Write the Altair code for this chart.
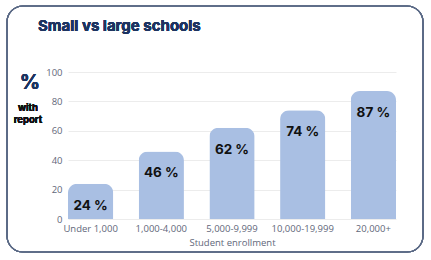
import altair as alt
import pandas as pd

# Share of schools with a report, by student enrollment band
categories = ["Under 1,000", "1,000-4,000", "5,000-9,999", "10,000-19,999", "20,000+"]
values = [24, 46, 62, 74, 87]
labels = ["24 %", "46 %", "62 %", "74 %", "87 %"]
y_ticks = [0, 20, 40, 60, 80, 100]

df = pd.DataFrame({"band": categories, "pct": values, "label": labels})

NAVY = "#1d3461"
BAR = "#a9bfe3"
GREY = "#62677a"

x_enc = alt.X(
    "band:N",
    sort=categories,
    scale=alt.Scale(paddingInner=0.36, paddingOuter=0),
    axis=alt.Axis(
        title="Student enrollment",
        labelAngle=0,
        labelColor=GREY,
        labelFontSize=9.5,
        labelFont="Open Sans",
        labelPadding=4,
        titleColor=GREY,
        titleFontSize=9.5,
        titleFont="Open Sans",
        titleFontWeight="normal",
        titlePadding=5,
        domain=False,
        ticks=False,
    ),
)

y_enc = alt.Y(
    "pct:Q",
    scale=alt.Scale(domain=[0, 100], nice=False),
    axis=alt.Axis(
        title=None,
        values=y_ticks,
        labelOverlap=False,
        labelColor=GREY,
        labelFontSize=9.5,
        labelFont="Open Sans",
        labelPadding=6,
        domain=False,
        ticks=False,
        gridColor="#ececec",
        gridWidth=1,
    ),
)

bars = alt.Chart(df).mark_bar(
    color=BAR, cornerRadiusTopLeft=9, cornerRadiusTopRight=9
).encode(x=x_enc, y=y_enc)

bar_text = alt.Chart(df).mark_text(
    font="Inter", fontWeight="bold", fontSize=13.5, color="#111111",
    baseline="middle", dy=22,
).encode(x=x_enc, y=y_enc, text="label:N")

# Frame around the whole figure
frame = alt.Chart(df).mark_rect(
    fillOpacity=0, stroke="#5b6a86", strokeWidth=1.2, cornerRadius=16
).encode(
    x=alt.value(-61), x2=alt.value(355), y=alt.value(-66), y2=alt.value(180)
)

title = alt.Chart(df).mark_text(
    text="Small vs large schools", font="Inter", fontWeight="bold",
    fontSize=15, color=NAVY, align="left", baseline="alphabetic",
).encode(x=alt.value(-30), y=alt.value(-41))

pct_sign = alt.Chart(df).mark_text(
    text="%", font="Inter", fontWeight="bold", fontSize=20, color=NAVY,
    align="center", baseline="middle",
).encode(x=alt.value(-38), y=alt.value(11))

with_report = alt.Chart(df).mark_text(
    text=["with", "report"], font="Inter", fontWeight="bold", fontSize=9.5,
    color="#111111", align="center", baseline="middle", lineHeight=11.5,
).encode(x=alt.value(-40), y=alt.value(36))

chart = alt.layer(bars, bar_text, title, pct_sign, with_report, frame).properties(
    width=328,
    height=147,
    autosize=alt.AutoSizeParams(type="none"),
    padding={"left": 68, "top": 72, "right": 35, "bottom": 41},
    background="white",
).configure_view(stroke=None)

chart.save("out.html", embed_options={"renderer": "svg", "actions": False})
